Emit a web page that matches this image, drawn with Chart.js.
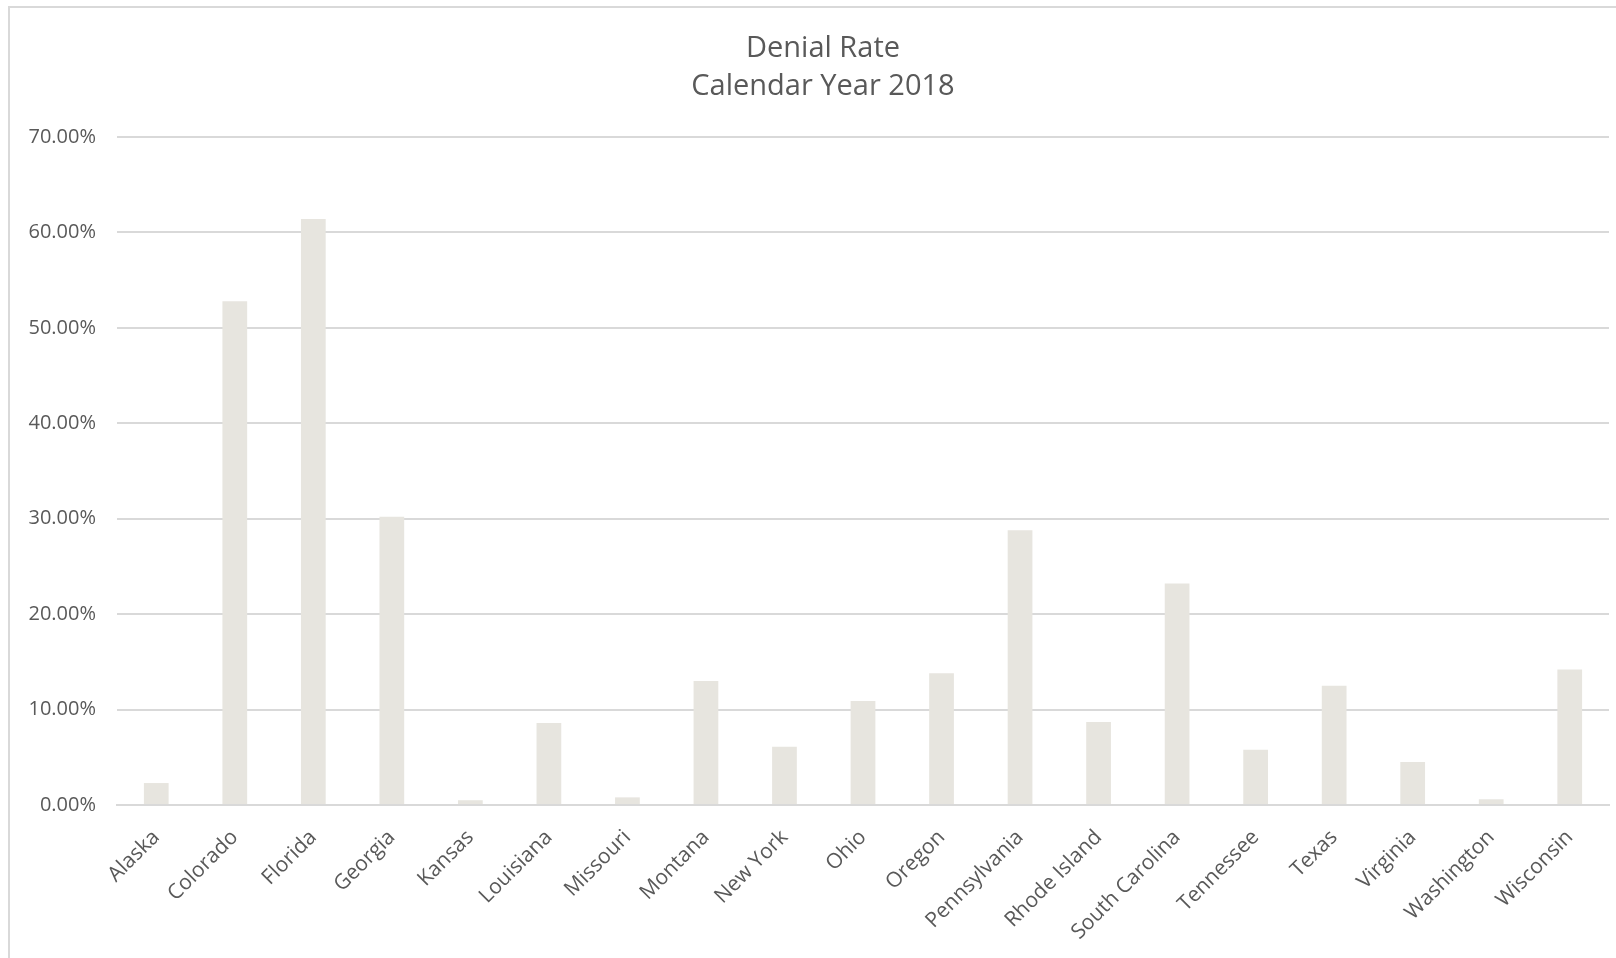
<!DOCTYPE html>
<html>
<head>
<meta charset="utf-8">
<script src="https://cdn.jsdelivr.net/npm/chart.js@4/dist/chart.umd.min.js"></script>
<style>
  html, body { margin: 0; padding: 0; background: #ffffff; overflow: hidden; width: 1616px; height: 958px; }
  #frame { position: absolute; left: 8px; top: 6px; width: 1700px; height: 1000px; border: 2px solid #d9d9d9; box-sizing: border-box; background: #fff; }
  #wrap { position: absolute; left: 0; top: 0; width: 1626px; height: 950px; }
  #title { position: absolute; left: 0; top: 19px; width: 1626px; text-align: center; font-family: 'Open Sans', Lato, sans-serif; font-size: 29px; line-height: 38px; color: #595959; }
</style>
</head>
<body>
<div id="frame"><div id="wrap"><canvas id="c"></canvas></div><div id="title"></div></div>
<script>
const titleLines = ["Denial Rate", "Calendar Year 2018"];
const states = ["Alaska", "Colorado", "Florida", "Georgia", "Kansas", "Louisiana", "Missouri", "Montana", "New York", "Ohio", "Oregon", "Pennsylvania", "Rhode Island", "South Carolina", "Tennessee", "Texas", "Virginia", "Washington", "Wisconsin"];
const denialRate = [2.3, 52.8, 61.4, 30.2, 0.5, 8.6, 0.8, 13.0, 6.1, 10.9, 13.8, 28.8, 8.7, 23.2, 5.8, 12.5, 4.5, 0.6, 14.2];
const yMin = 0, yMax = 70, yStep = 10;

const textColor = "#595959";
const gridColor = "#d9d9d9";
const barColor = "#e7e5df";
const fontFamily = "'Open Sans', Lato, sans-serif";

const titleEl = document.getElementById("title");
titleLines.forEach((t) => { const d = document.createElement("div"); d.textContent = t; titleEl.appendChild(d); });

new Chart(document.getElementById("c"), {
  type: "bar",
  data: {
    labels: states,
    datasets: [{
      label: "Denial Rate",
      data: denialRate,
      backgroundColor: barColor,
      borderWidth: 0,
      categoryPercentage: 1.0,
      barPercentage: 0.315
    }]
  },
  options: {
    responsive: true,
    maintainAspectRatio: false,
    animation: false,
    layout: { padding: { left: 0, right: 27, top: 129, bottom: 0 } },
    plugins: {
      legend: { display: false },
      tooltip: { enabled: false },
      title: { display: false }
    },
    scales: {
      x: {
        grid: { display: false, drawTicks: false },
        border: { display: true, color: gridColor, width: 2 },
        ticks: {
          color: textColor,
          font: { family: fontFamily, size: 21 },
          maxRotation: 45, minRotation: 45,
          padding: 20,
          autoSkip: false
        },
        afterFit: (s) => { s.height = 153; }
      },
      y: {
        min: yMin, max: yMax,
        ticks: {
          stepSize: yStep,
          color: textColor,
          font: { family: fontFamily, size: 20 },
          padding: 21,
          callback: (v) => v.toFixed(2) + "%"
        },
        grid: { color: gridColor, lineWidth: 2, drawTicks: false },
        border: { display: false },
        afterFit: (s) => { s.width = 107; }
      }
    }
  }
});
</script>
</body>
</html>
